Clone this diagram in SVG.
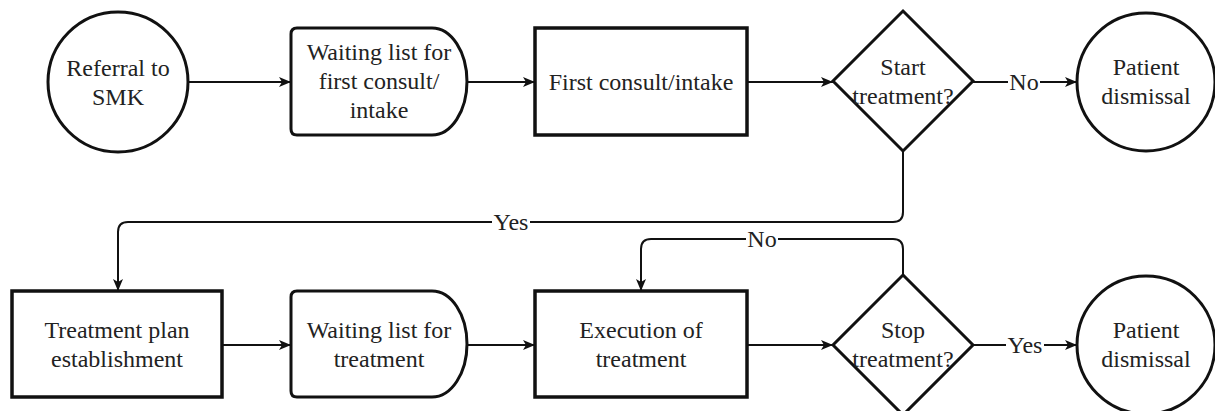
<svg xmlns="http://www.w3.org/2000/svg" width="1215" height="411" viewBox="0 0 1215 411">
<defs>
<marker id="arr" viewBox="0 0 12 10" refX="12" refY="5" markerWidth="12" markerHeight="10" markerUnits="userSpaceOnUse" orient="auto">
<path d="M0,0 L12,5 L0,10 L3,5 Z" fill="#111"/>
</marker>
</defs>
<rect width="1215" height="411" fill="#fff"/>
<g id="connectors" fill="none" stroke="#111" stroke-width="2">
<path d="M189,82 H291" marker-end="url(#arr)"/>
<path d="M467,82 H535" marker-end="url(#arr)"/>
<path d="M747,82 H833" marker-end="url(#arr)"/>
<path d="M973,82 H1077" marker-end="url(#arr)"/>
<path d="M903,152 V212 Q903,222 893,222 H128 Q118,222 118,232 V291" marker-end="url(#arr)"/>
<path d="M222,345 H291" marker-end="url(#arr)"/>
<path d="M467,345 H535" marker-end="url(#arr)"/>
<path d="M747,345 H833" marker-end="url(#arr)"/>
<path d="M973,345 H1077" marker-end="url(#arr)"/>
<path d="M903,275 V249 Q903,239 893,239 H651 Q641,239 641,249 V291" marker-end="url(#arr)"/>
<g stroke="none" fill="#fff">
<rect x="1008" y="70" width="32" height="24"/>
<rect x="492" y="210" width="38" height="24"/>
<rect x="746" y="227" width="32" height="24"/>
<rect x="1006" y="333" width="38" height="24"/>
</g>
<g stroke="none" fill="#222" font-family="Liberation Serif" font-size="24" text-anchor="middle">
<text x="1024" y="90">No</text>
<text x="511" y="230">Yes</text>
<text x="762" y="247">No</text>
<text x="1025" y="353">Yes</text>
</g>
</g>
<g font-family="Liberation Serif" font-size="24" text-anchor="middle">
<g id="referral">
<circle cx="118" cy="82" r="70" fill="#fff" stroke="#111" stroke-width="3"/>
<text x="118" y="76" fill="#222">Referral to</text>
<text x="118" y="105" fill="#222">SMK</text>
</g>
<g id="waiting1">
<path d="M297,28 H432 A35,53.5 0 0 1 432,135 H297 Q291,135 291,129 V34 Q291,28 297,28 Z" fill="#fff" stroke="#111" stroke-width="3"/>
<text x="379" y="60" fill="#222">Waiting list for</text>
<text x="379" y="89" fill="#222">first consult/</text>
<text x="379" y="118" fill="#222">intake</text>
</g>
<g id="firstconsult">
<rect x="535" y="28" width="212" height="107" fill="#fff" stroke="#111" stroke-width="3.5"/>
<text x="641" y="90" fill="#222">First consult/intake</text>
</g>
<g id="start">
<path d="M903,11 L973,81 L903,151 L833,81 Z" fill="#fff" stroke="#111" stroke-width="3"/>
<text x="903" y="75" fill="#222">Start</text>
<text x="903" y="104" fill="#222">treatment?</text>
</g>
<g id="dismissal1">
<circle cx="1146" cy="82" r="69" fill="#fff" stroke="#111" stroke-width="3"/>
<text x="1146" y="75" fill="#222">Patient</text>
<text x="1146" y="104" fill="#222">dismissal</text>
</g>
<g id="plan">
<rect x="12" y="291" width="210" height="106" fill="#fff" stroke="#111" stroke-width="3.5"/>
<text x="117" y="338" fill="#222">Treatment plan</text>
<text x="117" y="367" fill="#222">establishment</text>
</g>
<g id="waiting2">
<path d="M297,291 H432 A35,53 0 0 1 432,397 H297 Q291,397 291,391 V297 Q291,291 297,291 Z" fill="#fff" stroke="#111" stroke-width="3"/>
<text x="379" y="338" fill="#222">Waiting list for</text>
<text x="379" y="367" fill="#222">treatment</text>
</g>
<g id="execution">
<rect x="535" y="291" width="212" height="106" fill="#fff" stroke="#111" stroke-width="3.5"/>
<text x="641" y="338" fill="#222">Execution of</text>
<text x="641" y="367" fill="#222">treatment</text>
</g>
<g id="stop">
<path d="M903,275 L973,345 L903,415 L833,345 Z" fill="#fff" stroke="#111" stroke-width="3"/>
<text x="903" y="338" fill="#222">Stop</text>
<text x="903" y="367" fill="#222">treatment?</text>
</g>
<g id="dismissal2">
<circle cx="1146" cy="345" r="69" fill="#fff" stroke="#111" stroke-width="3"/>
<text x="1146" y="338" fill="#222">Patient</text>
<text x="1146" y="367" fill="#222">dismissal</text>
</g>
</g>
</svg>
